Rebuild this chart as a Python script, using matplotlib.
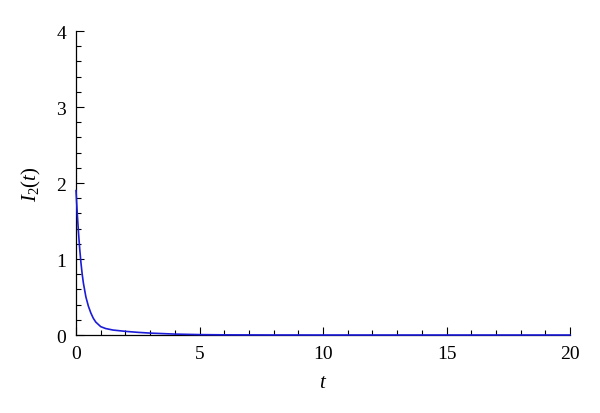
import matplotlib
matplotlib.use("Agg")
import matplotlib.pyplot as plt
from matplotlib.ticker import MultipleLocator

# values
t = [0, 0.05, 0.1, 0.15, 0.2, 0.25, 0.3, 0.4, 0.5, 0.6, 0.7, 0.8, 1.0, 1.2,
     1.5, 2.0, 2.5, 3.0, 4.0, 5.0, 6.0, 8.0, 10.0, 15.0, 20.0]
i2 = [1.9, 1.6, 1.35, 1.13, 0.95, 0.8, 0.68, 0.5, 0.38, 0.29, 0.22, 0.17, 0.11, 0.085,
      0.065, 0.048, 0.035, 0.025, 0.012, 0.005, 0.002, 0.0005, 0.0, 0.0, 0.0]

plt.rcParams['font.family'] = ['Liberation Serif', 'DejaVu Serif']
plt.rcParams['mathtext.fontset'] = 'custom'
plt.rcParams['mathtext.rm'] = 'Liberation Serif'
plt.rcParams['mathtext.it'] = 'Liberation Serif:italic'

fig = plt.figure(figsize=(6, 4.14), dpi=100)
ax = fig.add_axes([0.1267, 0.1884, 0.8233, 0.7343])

ax.plot(t, i2, color='#1c1cd8', lw=1.2, clip_on=False, zorder=3)

ax.set_xlim(0, 20)
ax.set_ylim(0, 4)
ax.spines['top'].set_visible(False)
ax.spines['right'].set_visible(False)
for s in ('left', 'bottom'):
    ax.spines[s].set_linewidth(0.9)

ax.xaxis.set_major_locator(MultipleLocator(5))
ax.xaxis.set_minor_locator(MultipleLocator(1))
ax.yaxis.set_major_locator(MultipleLocator(1))
ax.yaxis.set_minor_locator(MultipleLocator(0.2))
ax.tick_params(which='both', direction='in', labelsize=14, width=0.8)
ax.tick_params(which='major', length=6, pad=7)
ax.tick_params(which='minor', length=3.5)

ax.set_xlabel(r'$t$', fontsize=15, labelpad=8)
ax.set_ylabel(r'$I_2(t)$', fontsize=15, labelpad=10)

fig.savefig('out.png', dpi=100)
